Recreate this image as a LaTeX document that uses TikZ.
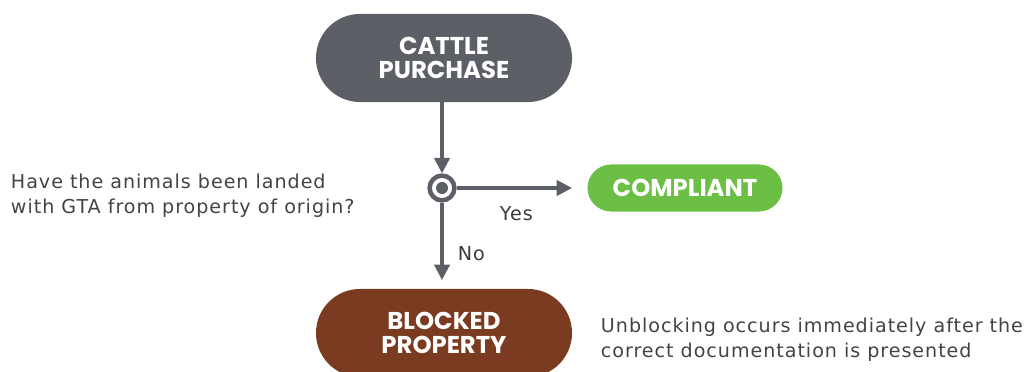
\documentclass[tikz,border=0pt]{standalone}
\usepackage{fontspec}
\setmainfont[LetterSpace=5]{DejaVu Sans}
\newfontfamily\headfont{Poppins}
\usepackage{xcolor}
\usetikzlibrary{arrows.meta}
\definecolor{flowgray}{HTML}{5D5F66}
\definecolor{flowgreen}{HTML}{6CBF45}
\definecolor{flowbrown}{HTML}{7A3B20}
\tikzset{
	pill/.style={rounded corners=#1, text=white, align=center,
		font=\headfont\bfseries\fontsize{17.3}{17}\selectfont},
	flowline/.style={draw=flowgray, line width=2.2pt, -{Triangle[length=11pt,width=11pt]}},
	note/.style={align=left, anchor=west, text=flowgray!70!black,
		font=\fontsize{13.6}{17.7}\selectfont}
}

\begin{document}
\begin{tikzpicture}[x=0.025cm,y=-0.025cm]
	\useasboundingbox (0,0) rectangle (1036,372);
	\node[pill=1.1cm, fill=flowgray, minimum width=6.4cm, minimum height=2.2cm] (purchase) at (444,58) {CATTLE\\PURCHASE};
	\node[pill=0.59cm, fill=flowgreen, minimum width=4.875cm, minimum height=1.175cm] (compliant) at (685,188) {COMPLIANT};
	\node[pill=1.1cm, fill=flowbrown, minimum width=6.4cm, minimum height=2.2cm] (blocked) at (444,333) {BLOCKED\\PROPERTY};
	\node[circle, draw=flowgray, line width=3.2pt, fill=white, minimum size=0.62cm, inner sep=0pt] (check) at (442,188) {};
	\fill[flowgray] (check.center) circle (0.15cm);
	\coordinate (yesend) at (572,188);
	\coordinate (noend) at (442,280);
	\draw[flowline] (purchase.south -| check) -- (check.north);
	\draw[flowline] (check.east) -- (yesend);
	\draw[flowline] (check.south) -- (noend);
	\node[note, text=flowgray!60!black] (yes) at (495,214) {Yes};
	\node[note, text=flowgray!60!black] (no) at (453,254) {No};
	\node[note] (question) at (6,196) {Have the animals been landed\\with GTA from property of origin?};
	\node[note] (unblock) at (596,340) {Unblocking occurs immediately after the\\correct documentation is presented};
\end{tikzpicture}
\end{document}
